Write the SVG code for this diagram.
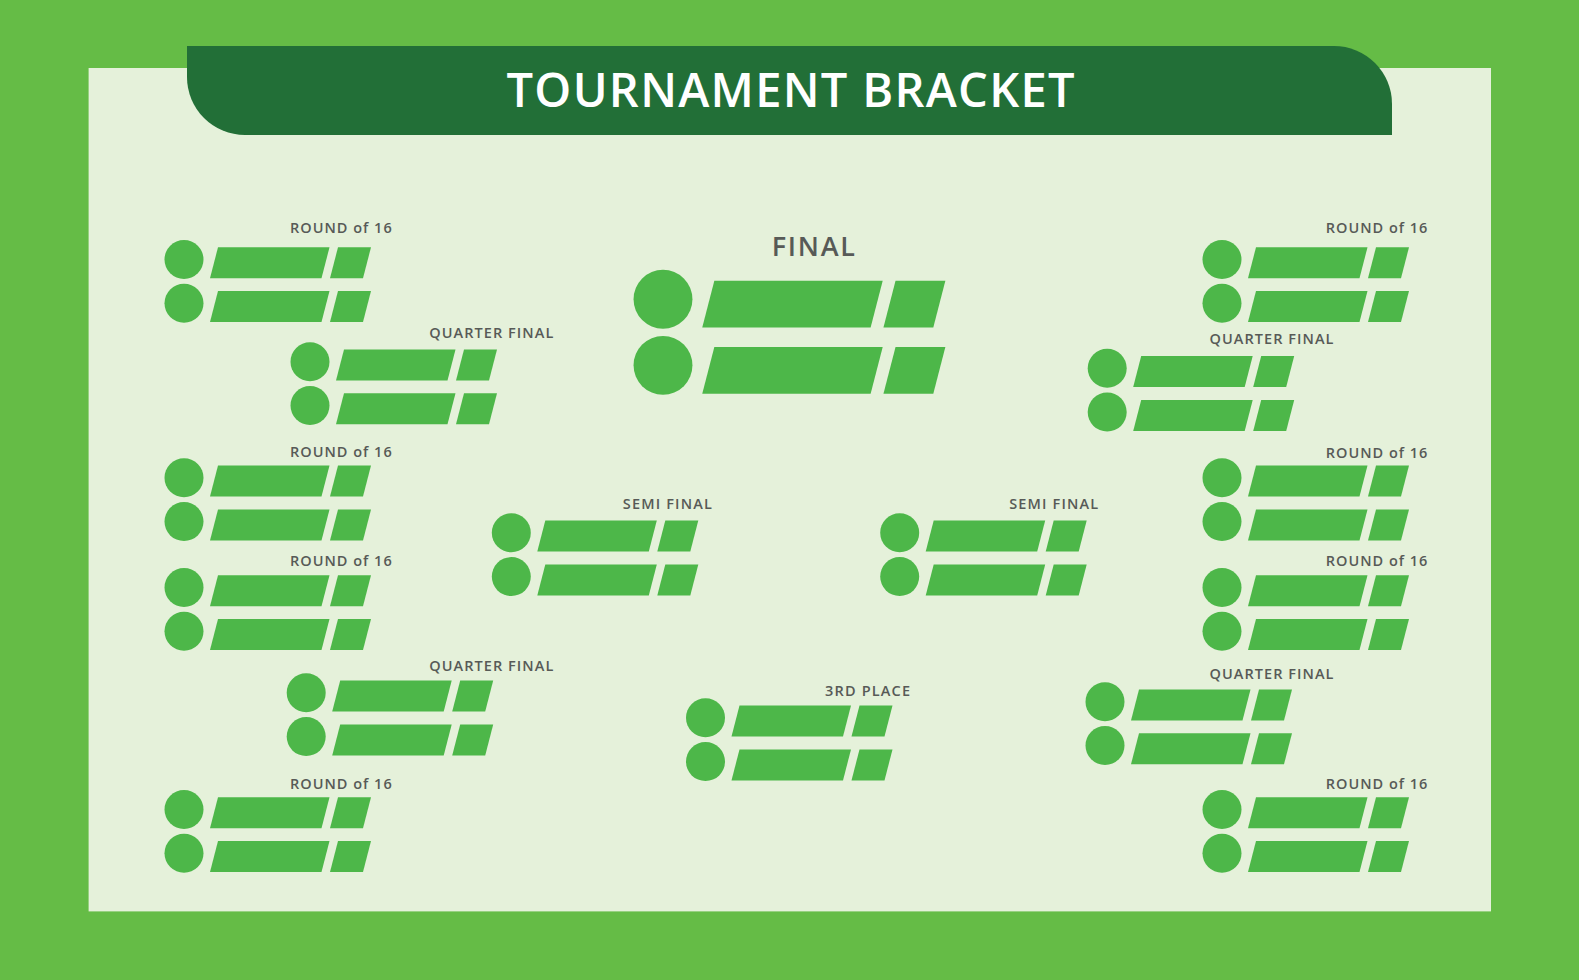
<svg xmlns="http://www.w3.org/2000/svg" xmlns:xlink="http://www.w3.org/1999/xlink" width="1579" height="980" viewBox="0 0 1579 980">
<style>
.shape{fill:#4db749}
.lbl{font-family:"Open Sans","Liberation Sans",sans-serif;font-weight:600;font-size:14.5px;fill:#575a57}
.big{font-family:"Open Sans","Liberation Sans",sans-serif;font-weight:600;font-size:27px;fill:#575a57}
.title{font-family:"Open Sans","Liberation Sans",sans-serif;font-weight:600;font-size:47px;fill:#ffffff}
</style>
<defs>
<g id="slot" class="shape">
<circle cx="0" cy="0" r="19.5"/>
<circle cx="0" cy="43.8" r="19.5"/>
<polygon points="34,-12.2 145.5,-12.2 137.5,18.8 26,18.8"/>
<polygon points="154,-12.2 187,-12.2 179,18.8 146,18.8"/>
<polygon points="34,31.6 145.5,31.6 137.5,62.6 26,62.6"/>
<polygon points="154,31.6 187,31.6 179,62.6 146,62.6"/>
</g>
</defs>
<rect x="0" y="0" width="1579" height="980" fill="#65bc46"/>
<rect x="88.6" y="68" width="1402.4" height="843.4" fill="#e5f1da"/>
<g id="header">
<path d="M187,46 H1334 A58,58 0 0 1 1392,104 V135 H245 A58,58 0 0 1 187,77 Z" fill="#226f37"/>
<text class="title" x="506.5" y="107.3" textLength="568" lengthAdjust="spacing">TOURNAMENT BRACKET</text>
</g>
<g id="connectors"></g>
<g id="r16-left-1"><use xlink:href="#slot" x="184" y="259.5"/><text class="lbl" x="290" y="233.3" textLength="101.7" lengthAdjust="spacing">ROUND of 16</text></g>
<g id="r16-left-2"><use xlink:href="#slot" x="184" y="477.8"/><text class="lbl" x="290" y="457.3" textLength="101.7" lengthAdjust="spacing">ROUND of 16</text></g>
<g id="r16-left-3"><use xlink:href="#slot" x="184" y="587.5"/><text class="lbl" x="290" y="566" textLength="101.7" lengthAdjust="spacing">ROUND of 16</text></g>
<g id="r16-left-4"><use xlink:href="#slot" x="184" y="809.5"/><text class="lbl" x="290" y="789" textLength="101.7" lengthAdjust="spacing">ROUND of 16</text></g>
<g id="qf-left-1"><use xlink:href="#slot" x="310" y="361.7"/><text class="lbl" x="429.3" y="337.7" textLength="124" lengthAdjust="spacing">QUARTER FINAL</text></g>
<g id="qf-left-2"><use xlink:href="#slot" x="306.2" y="692.8"/><text class="lbl" x="429.3" y="670.7" textLength="124" lengthAdjust="spacing">QUARTER FINAL</text></g>
<g id="semi-left"><use xlink:href="#slot" x="511.3" y="532.8"/><text class="lbl" x="622.8" y="509.3" textLength="89" lengthAdjust="spacing">SEMI FINAL</text></g>
<g id="final"><g transform="translate(663,299.2) scale(1.51)"><use xlink:href="#slot"/></g><text class="big" x="771.7" y="256" textLength="83.3" lengthAdjust="spacing">FINAL</text></g>
<g id="third-place"><use xlink:href="#slot" x="705.5" y="717.8"/><text class="lbl" x="825" y="695.7" textLength="85" lengthAdjust="spacing">3RD PLACE</text></g>
<g id="semi-right"><use xlink:href="#slot" x="899.7" y="532.8"/><text class="lbl" x="1009.2" y="509.3" textLength="89" lengthAdjust="spacing">SEMI FINAL</text></g>
<g id="qf-right-1"><use xlink:href="#slot" x="1107.2" y="368.3"/><text class="lbl" x="1209.5" y="344" textLength="124" lengthAdjust="spacing">QUARTER FINAL</text></g>
<g id="qf-right-2"><use xlink:href="#slot" x="1105" y="701.7"/><text class="lbl" x="1209.5" y="679.3" textLength="124" lengthAdjust="spacing">QUARTER FINAL</text></g>
<g id="r16-right-1"><use xlink:href="#slot" x="1222" y="259.5"/><text class="lbl" x="1325.7" y="233.3" textLength="101.7" lengthAdjust="spacing">ROUND of 16</text></g>
<g id="r16-right-2"><use xlink:href="#slot" x="1222" y="477.8"/><text class="lbl" x="1325.7" y="457.7" textLength="101.7" lengthAdjust="spacing">ROUND of 16</text></g>
<g id="r16-right-3"><use xlink:href="#slot" x="1222" y="587.5"/><text class="lbl" x="1325.7" y="566" textLength="101.7" lengthAdjust="spacing">ROUND of 16</text></g>
<g id="r16-right-4"><use xlink:href="#slot" x="1222" y="809.5"/><text class="lbl" x="1325.7" y="789" textLength="101.7" lengthAdjust="spacing">ROUND of 16</text></g>
</svg>
